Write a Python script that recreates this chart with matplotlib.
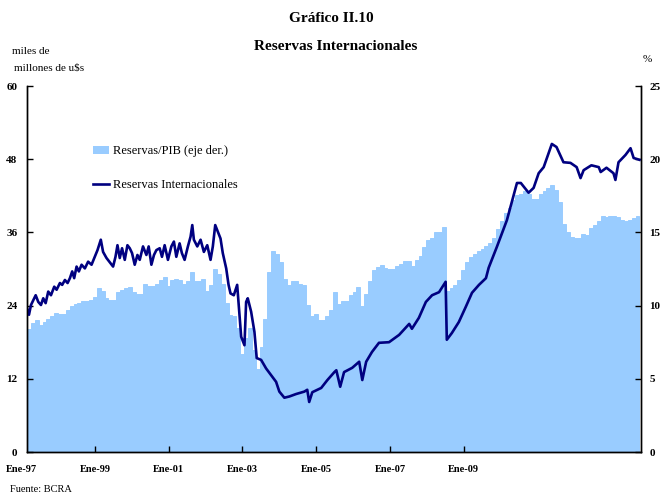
import matplotlib
matplotlib.use("Agg")
import matplotlib.pyplot as plt
from matplotlib.patches import Patch
from matplotlib.lines import Line2D
from matplotlib.transforms import blended_transform_factory

# ---------------- data ----------------
# Reservas/PIB (%), monthly from Jan-1997 (index 0) to Feb-2010
pib_pct = [
    8.4, 8.8, 9.0, 8.7, 8.9, 9.1, 9.3, 9.5, 9.4, 9.4, 9.7, 10.0,
    10.1, 10.2, 10.3, 10.3, 10.4, 10.6, 11.2, 11.0, 10.5, 10.35, 10.35, 10.95,
    11.05, 11.2, 11.3, 10.95, 10.8, 10.8, 11.5, 11.35, 11.35, 11.5, 11.75, 11.95,
    11.35, 11.75, 11.85, 11.75, 11.5, 11.65, 12.3, 11.7, 11.7, 11.8, 11.0, 11.4,
    12.5, 12.15, 11.5, 10.2, 9.35, 9.3, 8.45, 6.7, 7.8, 8.45, 7.0, 5.7,
    7.15, 9.1, 12.3, 13.7, 13.55, 13.0, 11.8, 11.4, 11.7, 11.7, 11.5, 11.4,
    10.05, 9.3, 9.45, 9.0, 9.05, 9.3, 9.7, 10.9, 10.1, 10.3, 10.3, 10.75,
    10.95, 11.3, 9.95, 10.8, 11.7, 12.45, 12.65, 12.75, 12.6, 12.5, 12.5, 12.7,
    12.85, 13.05, 13.05, 12.7, 13.1, 13.4, 14.0, 14.5, 14.65, 15.0, 15.0, 15.4,
    11.0, 11.2, 11.4, 11.75, 12.45, 12.95, 13.3, 13.55, 13.7, 13.85, 14.1, 14.25,
    14.6, 15.2, 15.8, 16.3, 16.7, 17.2, 17.55, 17.6, 17.8, 17.6, 17.3, 17.3,
    17.6, 17.8, 18.05, 18.25, 17.9, 17.1, 15.6, 15.05, 14.7, 14.6, 14.6, 14.9,
    14.8, 15.3, 15.5, 15.75, 16.1, 16.05, 16.1, 16.1, 16.05, 15.85, 15.8, 15.85,
    15.95, 16.1,
]
pib_month = list(range(len(pib_pct)))

# Reservas Internacionales (miles de millones de u$s); time in months from Jan-1997
res_month = [
    0.0, 0.51, 1.03, 1.62, 2.24, 2.91, 3.60, 4.19, 4.81, 5.48, 6.18, 7.03, 7.64,
    8.49, 9.08, 9.78, 10.47, 11.07, 11.66, 12.17, 12.79, 13.38, 14.08, 14.93,
    15.77, 16.65, 17.50, 18.19, 19.04, 19.63, 20.51, 21.62, 22.21, 22.83, 23.34,
    23.93, 24.52, 25.22, 25.91, 26.51, 27.10, 27.79, 28.49, 29.08, 29.93, 30.80,
    31.39, 32.09, 32.76, 33.38, 34.23, 34.82, 35.51, 36.36, 37.24, 37.90, 38.52,
    39.37, 39.96, 40.66, 41.51, 42.20, 42.64, 43.05, 43.93, 44.78, 45.63, 46.50,
    47.35, 47.94, 48.56, 49.23, 49.92, 50.51, 51.39, 52.0, 52.50, 53.35, 54.22,
    54.55, 55.25, 56.10, 56.53, 56.95, 57.82, 58.67, 59.26, 60.40, 61.68, 62.97,
    64.26, 65.10, 66.39, 67.68, 69.40, 71.54,
    72.3, 72.8, 73.6, 75.9, 77.5, 79.3, 79.8, 80.8, 81.8, 83.9, 85.7, 86.5, 87.5,
    89.0, 90.8, 93.4, 96.0, 98.6, 99.3, 101.1, 102.9, 104.5, 106.3, 108.0, 108.3,
    109.6, 111.4, 113.2, 114.8, 116.6, 118.4, 119.1, 121.2, 123.8, 126.4, 127.4,
    129.4, 130.7, 132.0, 133.3, 135.4, 136.6, 138.4, 140.2, 141.8, 142.8, 143.6,
    145.6, 147.5, 148.0, 149.5, 151.3, 151.8, 152.6, 154.4, 155.7, 156.5, 158.0,
]
res_value = [
    23.6, 22.5, 24.1, 24.9, 25.7, 24.6, 24.1, 25.2, 24.4, 26.3, 25.7, 27.1, 26.6,
    27.7, 27.4, 28.2, 27.7, 28.5, 29.6, 28.5, 30.4, 29.6, 30.7, 30.1,
    31.2, 30.7, 32.0, 33.1, 34.8, 32.8, 31.8, 30.9, 30.4, 32.0, 33.9,
    31.8, 33.4, 31.5, 33.9, 33.4, 32.6, 30.7, 32.3, 31.5, 33.7, 32.3,
    33.7, 30.7, 32.3, 33.1, 33.4, 32.0, 33.9, 31.5, 33.7, 34.5, 32.0,
    34.2, 32.6, 31.5, 33.7, 35.3, 37.2, 34.8, 33.7, 34.8, 32.8, 33.9,
    31.5, 33.7, 37.2, 36.1, 35.0, 32.6, 30.1, 27.4, 26.0, 25.7, 27.4,
    24.6, 18.9, 17.5, 24.6, 25.2, 23.0, 19.7, 15.4, 15.1, 13.7, 12.6,
    11.5, 9.9, 8.9, 9.1, 9.5, 9.9,
    10.2, 8.2, 9.8, 10.5, 11.8, 13.1, 13.4, 10.7, 13.1, 13.8, 14.8, 11.8, 14.8,
    16.4, 17.9, 18.0, 19.2, 21.0, 20.2, 22.0, 24.6, 25.7, 26.2, 27.9, 18.4,
    19.5, 21.3, 23.8, 26.1, 27.4, 28.5, 30.2, 33.6, 38.0, 44.1, 44.1,
    42.5, 43.3, 45.7, 46.7, 50.5, 50.0, 47.5, 47.4, 46.7, 44.9, 46.2,
    47.0, 46.7, 45.9, 46.6, 45.7, 44.6, 47.5, 48.7, 49.8, 48.2, 47.9,
]

xtick_labels = ["Ene-97", "Ene-99", "Ene-01", "Ene-03", "Ene-05", "Ene-07", "Ene-09"]
left_ticks = [0, 12, 24, 36, 48, 60]
right_ticks = [0, 5, 10, 15, 20, 25]

# ---------------- style ----------------
SERIF = ["Liberation Serif", "DejaVu Serif"]
plt.rcParams["font.family"] = SERIF
BAR_COLOR = "#99CCFF"
LINE_COLOR = "#000080"

W, H = 661, 495
fig = plt.figure(figsize=(W / 100, H / 100), dpi=100)
L, R, B, T = 27, 641, 452, 86
ax = fig.add_axes([L / W, 1 - B / H, (R - L) / W, (B - T) / H])
ax2 = ax.twinx()

ax2.bar(pib_month, pib_pct, width=1.0, align="edge", color=BAR_COLOR,
        edgecolor=BAR_COLOR, linewidth=0.7)
ax.plot(res_month, res_value, color=LINE_COLOR, lw=1.9,
        solid_joinstyle="round")

ax.set_zorder(ax2.get_zorder() + 1)
ax.patch.set_visible(False)

n = len(pib_pct)
ax.set_xlim(0, n + 0.4)
ax.set_ylim(0, 60)
ax2.set_ylim(0, 25)
ax.set_yticks(left_ticks)
ax2.set_yticks(right_ticks)

# x tick positions: first label sits just left of the axis, then every ~19 months
x0, step = -1.5, 19.03
xt = [x0 + i * step for i in range(len(xtick_labels))]
ax.set_xticks(xt[1:])
ax.set_xticklabels([])
trans = blended_transform_factory(ax.transData, ax.transAxes)
for xi, lab in zip(xt, xtick_labels):
    ax.text(xi, -0.035, lab, transform=trans, ha="center", va="top",
            fontsize=7.5, fontweight="bold", clip_on=False)

for a in (ax, ax2):
    a.spines["top"].set_visible(False)
    for s in a.spines.values():
        s.set_linewidth(1.0)
ax.tick_params(axis="both", direction="in", length=4, width=1,
               labelsize=8, pad=7)
ax2.tick_params(axis="y", direction="in", length=4, width=1,
                labelsize=8, pad=6)
for lab in ax.get_yticklabels() + ax2.get_yticklabels():
    lab.set_fontweight("bold")

handles = [Patch(facecolor=BAR_COLOR, edgecolor="none"),
           Line2D([], [], color=LINE_COLOR, lw=1.9)]
labels = ["Reservas/PIB (eje der.)", "Reservas Internacionales"]
ax.legend(handles, labels, loc="center left", bbox_to_anchor=(0.107, 0.775),
          frameon=False, fontsize=9, labelspacing=1.75, handlelength=1.3,
          handletextpad=0.3, borderaxespad=0, borderpad=0)

fig.text(331 / W, 1 - 18 / H, "Gráfico II.10", ha="center", va="center",
         fontsize=11, fontweight="bold")
fig.text(336 / W, 1 - 46 / H, "Reservas Internacionales", ha="center",
         va="center", fontsize=11, fontweight="bold")
fig.text(12 / W, 1 - 52 / H, "miles de", ha="left", va="center", fontsize=8)
fig.text(14 / W, 1 - 68 / H, "millones de u$s", ha="left", va="center", fontsize=8)
fig.text(643 / W, 1 - 59 / H, "%", ha="left", va="center", fontsize=8)
fig.text(10 / W, 1 - 490 / H, "Fuente: BCRA", ha="left", va="center", fontsize=7.5)

fig.savefig("out.png", dpi=100)
